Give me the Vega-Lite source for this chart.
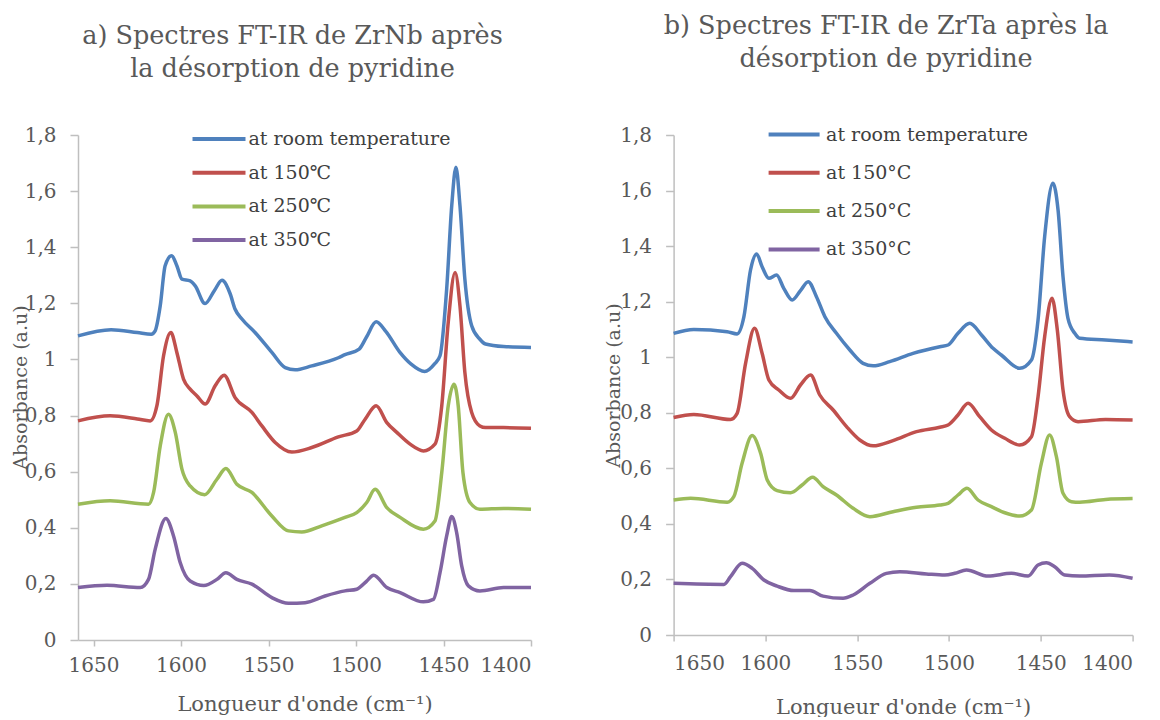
{
  "$schema": "https://vega.github.io/schema/vega-lite/v6.json",
  "background": "white",
  "padding": {"left": 11, "top": 14, "right": 0, "bottom": 0},
  "autosize": {"type": "pad"},
  "spacing": 142.6,
  "bounds": "flush",
  "config": {
    "view": {"stroke": null},
    "font": "DejaVu Serif",
    "axis": {
      "grid": false,
      "domainColor": "#BFBFBF",
      "domainWidth": 1.5,
      "tickColor": "#BFBFBF",
      "tickWidth": 1.5,
      "labelFont": "DejaVu Serif",
      "labelFontSize": 20,
      "labelColor": "#595959",
      "titleFont": "DejaVu Serif",
      "titleFontWeight": "normal",
      "titleColor": "#595959"
    },
    "axisX": {"tickSize": 6, "labelPadding": 9, "titleFontSize": 21},
    "axisY": {"tickSize": 8, "labelPadding": 14, "titleFontSize": 19},
    "title": {
      "font": "DejaVu Serif",
      "fontSize": 25.5,
      "fontWeight": "normal",
      "color": "#595959",
      "lineHeight": 33,
      "anchor": "middle",
      "baseline": "bottom"
    },
    "legend": {
      "labelFont": "DejaVu Serif",
      "labelFontSize": 19,
      "labelColor": "#404040",
      "labelLimit": 0,
      "padding": 0,
      "symbolType": "M-2,0H2",
      "symbolStrokeWidth": 4
    }
  },
  "datasets": {
    "nb": [
      {"w":1658.9,"a":1.084,"s":"at room temperature"},{"w":1640,"a":1.106,"s":"at room temperature"},{"w":1625,"a":1.096,"s":"at room temperature"},{"w":1617,"a":1.090,"s":"at room temperature"},{"w":1614.8,"a":1.102,"s":"at room temperature"},{"w":1611.9,"a":1.191,"s":"at room temperature"},{"w":1609.1,"a":1.334,"s":"at room temperature"},{"w":1605.4,"a":1.370,"s":"at room temperature"},{"w":1602.4,"a":1.334,"s":"at room temperature"},{"w":1599.5,"a":1.286,"s":"at room temperature"},{"w":1594.8,"a":1.280,"s":"at room temperature"},{"w":1591.9,"a":1.262,"s":"at room temperature"},{"w":1586.3,"a":1.199,"s":"at room temperature"},{"w":1581,"a":1.245,"s":"at room temperature"},{"w":1576.6,"a":1.282,"s":"at room temperature"},{"w":1572,"a":1.235,"s":"at room temperature"},{"w":1569.1,"a":1.179,"s":"at room temperature"},{"w":1565.2,"a":1.144,"s":"at room temperature"},{"w":1557.7,"a":1.096,"s":"at room temperature"},{"w":1548.1,"a":1.025,"s":"at room temperature"},{"w":1540.5,"a":0.971,"s":"at room temperature"},{"w":1534.8,"a":0.963,"s":"at room temperature"},{"w":1525.3,"a":0.977,"s":"at room temperature"},{"w":1510.1,"a":1.006,"s":"at room temperature"},{"w":1506.3,"a":1.017,"s":"at room temperature"},{"w":1498.2,"a":1.037,"s":"at room temperature"},{"w":1494,"a":1.080,"s":"at room temperature"},{"w":1488.5,"a":1.134,"s":"at room temperature"},{"w":1483,"a":1.100,"s":"at room temperature"},{"w":1474.9,"a":1.025,"s":"at room temperature"},{"w":1468.5,"a":0.983,"s":"at room temperature"},{"w":1460.8,"a":0.957,"s":"at room temperature"},{"w":1455,"a":0.985,"s":"at room temperature"},{"w":1452,"a":1.013,"s":"at room temperature"},{"w":1448.2,"a":1.251,"s":"at room temperature"},{"w":1445.3,"a":1.548,"s":"at room temperature"},{"w":1442.9,"a":1.685,"s":"at room temperature"},{"w":1440.6,"a":1.548,"s":"at room temperature"},{"w":1437.8,"a":1.286,"s":"at room temperature"},{"w":1433.9,"a":1.120,"s":"at room temperature"},{"w":1429.2,"a":1.072,"s":"at room temperature"},{"w":1426,"a":1.055,"s":"at room temperature"},{"w":1415.7,"a":1.046,"s":"at room temperature"},{"w":1400,"a":1.043,"s":"at room temperature"},
      {"w":1658.9,"a":0.781,"s":"at 150℃"},{"w":1640.5,"a":0.799,"s":"at 150℃"},{"w":1625,"a":0.788,"s":"at 150℃"},{"w":1617.6,"a":0.781,"s":"at 150℃"},{"w":1613.8,"a":0.835,"s":"at 150℃"},{"w":1610,"a":1.013,"s":"at 150℃"},{"w":1605.8,"a":1.096,"s":"at 150℃"},{"w":1602.4,"a":1.025,"s":"at 150℃"},{"w":1598.6,"a":0.930,"s":"at 150℃"},{"w":1594.8,"a":0.894,"s":"at 150℃"},{"w":1590.9,"a":0.870,"s":"at 150℃"},{"w":1586.2,"a":0.841,"s":"at 150℃"},{"w":1580.5,"a":0.906,"s":"at 150℃"},{"w":1575.4,"a":0.944,"s":"at 150℃"},{"w":1569.1,"a":0.864,"s":"at 150℃"},{"w":1559.5,"a":0.811,"s":"at 150℃"},{"w":1553.8,"a":0.763,"s":"at 150℃"},{"w":1546.2,"a":0.704,"s":"at 150℃"},{"w":1536.7,"a":0.670,"s":"at 150℃"},{"w":1525.3,"a":0.686,"s":"at 150℃"},{"w":1510.1,"a":0.724,"s":"at 150℃"},{"w":1499.6,"a":0.745,"s":"at 150℃"},{"w":1494.8,"a":0.787,"s":"at 150℃"},{"w":1488.5,"a":0.835,"s":"at 150℃"},{"w":1482.4,"a":0.775,"s":"at 150℃"},{"w":1476.7,"a":0.740,"s":"at 150℃"},{"w":1469.1,"a":0.698,"s":"at 150℃"},{"w":1461.5,"a":0.674,"s":"at 150℃"},{"w":1454.9,"a":0.698,"s":"at 150℃"},{"w":1451,"a":0.835,"s":"at 150℃"},{"w":1447.3,"a":1.132,"s":"at 150℃"},{"w":1443.4,"a":1.310,"s":"at 150℃"},{"w":1440.6,"a":1.191,"s":"at 150℃"},{"w":1437.8,"a":0.954,"s":"at 150℃"},{"w":1433.9,"a":0.811,"s":"at 150℃"},{"w":1429.2,"a":0.763,"s":"at 150℃"},{"w":1426,"a":0.757,"s":"at 150℃"},{"w":1415.7,"a":0.757,"s":"at 150℃"},{"w":1400,"a":0.755,"s":"at 150℃"},
      {"w":1658.9,"a":0.484,"s":"at 250℃"},{"w":1640.5,"a":0.496,"s":"at 250℃"},{"w":1618.6,"a":0.484,"s":"at 250℃"},{"w":1615.7,"a":0.526,"s":"at 250℃"},{"w":1611.9,"a":0.692,"s":"at 250℃"},{"w":1607.2,"a":0.805,"s":"at 250℃"},{"w":1603.3,"a":0.740,"s":"at 250℃"},{"w":1599.5,"a":0.609,"s":"at 250℃"},{"w":1594.8,"a":0.549,"s":"at 250℃"},{"w":1586.5,"a":0.518,"s":"at 250℃"},{"w":1579.5,"a":0.573,"s":"at 250℃"},{"w":1574.4,"a":0.611,"s":"at 250℃"},{"w":1568.1,"a":0.555,"s":"at 250℃"},{"w":1559.5,"a":0.526,"s":"at 250℃"},{"w":1548.1,"a":0.442,"s":"at 250℃"},{"w":1538.6,"a":0.389,"s":"at 250℃"},{"w":1531,"a":0.385,"s":"at 250℃"},{"w":1519.6,"a":0.407,"s":"at 250℃"},{"w":1506.3,"a":0.437,"s":"at 250℃"},{"w":1499.6,"a":0.454,"s":"at 250℃"},{"w":1493.9,"a":0.490,"s":"at 250℃"},{"w":1489.1,"a":0.537,"s":"at 250℃"},{"w":1482.4,"a":0.472,"s":"at 250℃"},{"w":1474.8,"a":0.437,"s":"at 250℃"},{"w":1461.5,"a":0.395,"s":"at 250℃"},{"w":1454.9,"a":0.424,"s":"at 250℃"},{"w":1451,"a":0.597,"s":"at 250℃"},{"w":1447.3,"a":0.835,"s":"at 250℃"},{"w":1444,"a":0.912,"s":"at 250℃"},{"w":1441.6,"a":0.835,"s":"at 250℃"},{"w":1438.9,"a":0.597,"s":"at 250℃"},{"w":1434.9,"a":0.490,"s":"at 250℃"},{"w":1429.2,"a":0.466,"s":"at 250℃"},{"w":1415.7,"a":0.469,"s":"at 250℃"},{"w":1400,"a":0.466,"s":"at 250℃"},
      {"w":1658.9,"a":0.187,"s":"at 350℃"},{"w":1642.3,"a":0.195,"s":"at 350℃"},{"w":1623.3,"a":0.187,"s":"at 350℃"},{"w":1618.6,"a":0.216,"s":"at 350℃"},{"w":1614.8,"a":0.323,"s":"at 350℃"},{"w":1608.7,"a":0.433,"s":"at 350℃"},{"w":1604.3,"a":0.371,"s":"at 350℃"},{"w":1600.5,"a":0.276,"s":"at 350℃"},{"w":1594.8,"a":0.210,"s":"at 350℃"},{"w":1587,"a":0.194,"s":"at 350℃"},{"w":1579.5,"a":0.216,"s":"at 350℃"},{"w":1574.4,"a":0.240,"s":"at 350℃"},{"w":1568.1,"a":0.216,"s":"at 350℃"},{"w":1559.5,"a":0.199,"s":"at 350℃"},{"w":1548.1,"a":0.151,"s":"at 350℃"},{"w":1538.6,"a":0.131,"s":"at 350℃"},{"w":1529.1,"a":0.133,"s":"at 350℃"},{"w":1517.7,"a":0.157,"s":"at 350℃"},{"w":1506.3,"a":0.175,"s":"at 350℃"},{"w":1499.6,"a":0.181,"s":"at 350℃"},{"w":1493.9,"a":0.210,"s":"at 350℃"},{"w":1490,"a":0.231,"s":"at 350℃"},{"w":1482.4,"a":0.187,"s":"at 350℃"},{"w":1474.8,"a":0.169,"s":"at 350℃"},{"w":1461.5,"a":0.136,"s":"at 350℃"},{"w":1455.8,"a":0.145,"s":"at 350℃"},{"w":1452,"a":0.240,"s":"at 350℃"},{"w":1448.2,"a":0.371,"s":"at 350℃"},{"w":1445.3,"a":0.440,"s":"at 350℃"},{"w":1442.5,"a":0.383,"s":"at 350℃"},{"w":1439.6,"a":0.264,"s":"at 350℃"},{"w":1435.8,"a":0.193,"s":"at 350℃"},{"w":1429.2,"a":0.175,"s":"at 350℃"},{"w":1415.7,"a":0.187,"s":"at 350℃"},{"w":1400,"a":0.187,"s":"at 350℃"}
    ],
    "ta": [
      {"w":1650,"a":1.086,"s":"at room temperature"},{"w":1639,"a":1.100,"s":"at room temperature"},{"w":1620.8,"a":1.092,"s":"at room temperature"},{"w":1615.4,"a":1.084,"s":"at room temperature"},{"w":1611.7,"a":1.146,"s":"at room temperature"},{"w":1608.1,"a":1.314,"s":"at room temperature"},{"w":1604.8,"a":1.372,"s":"at room temperature"},{"w":1601.8,"a":1.326,"s":"at room temperature"},{"w":1598.1,"a":1.284,"s":"at room temperature"},{"w":1593.9,"a":1.296,"s":"at room temperature"},{"w":1590,"a":1.248,"s":"at room temperature"},{"w":1585.4,"a":1.206,"s":"at room temperature"},{"w":1580.9,"a":1.240,"s":"at room temperature"},{"w":1576.7,"a":1.272,"s":"at room temperature"},{"w":1572.2,"a":1.218,"s":"at room temperature"},{"w":1567.6,"a":1.146,"s":"at room temperature"},{"w":1561.3,"a":1.086,"s":"at room temperature"},{"w":1554,"a":1.026,"s":"at room temperature"},{"w":1546.8,"a":0.978,"s":"at room temperature"},{"w":1541.3,"a":0.969,"s":"at room temperature"},{"w":1532.3,"a":0.984,"s":"at room temperature"},{"w":1519.6,"a":1.014,"s":"at room temperature"},{"w":1505,"a":1.038,"s":"at room temperature"},{"w":1500.5,"a":1.044,"s":"at room temperature"},{"w":1495.1,"a":1.086,"s":"at room temperature"},{"w":1488.7,"a":1.122,"s":"at room temperature"},{"w":1482.3,"a":1.080,"s":"at room temperature"},{"w":1476,"a":1.032,"s":"at room temperature"},{"w":1471.5,"a":1.008,"s":"at room temperature"},{"w":1461.5,"a":0.960,"s":"at room temperature"},{"w":1455.1,"a":0.990,"s":"at room temperature"},{"w":1451.5,"a":1.134,"s":"at room temperature"},{"w":1447.9,"a":1.434,"s":"at room temperature"},{"w":1443.4,"a":1.626,"s":"at room temperature"},{"w":1440.6,"a":1.530,"s":"at room temperature"},{"w":1437.9,"a":1.290,"s":"at room temperature"},{"w":1435.2,"a":1.140,"s":"at room temperature"},{"w":1431.5,"a":1.086,"s":"at room temperature"},{"w":1428.8,"a":1.068,"s":"at room temperature"},{"w":1414.7,"a":1.062,"s":"at room temperature"},{"w":1400,"a":1.055,"s":"at room temperature"},
      {"w":1650,"a":0.783,"s":"at 150°C"},{"w":1639,"a":0.794,"s":"at 150°C"},{"w":1619,"a":0.776,"s":"at 150°C"},{"w":1615.4,"a":0.798,"s":"at 150°C"},{"w":1610.8,"a":0.978,"s":"at 150°C"},{"w":1605.9,"a":1.104,"s":"at 150°C"},{"w":1601.8,"a":1.014,"s":"at 150°C"},{"w":1598.1,"a":0.918,"s":"at 150°C"},{"w":1592.7,"a":0.882,"s":"at 150°C"},{"w":1586.3,"a":0.852,"s":"at 150°C"},{"w":1580.9,"a":0.900,"s":"at 150°C"},{"w":1575.4,"a":0.936,"s":"at 150°C"},{"w":1570.4,"a":0.864,"s":"at 150°C"},{"w":1563.1,"a":0.810,"s":"at 150°C"},{"w":1555.8,"a":0.750,"s":"at 150°C"},{"w":1548.6,"a":0.702,"s":"at 150°C"},{"w":1541.3,"a":0.681,"s":"at 150°C"},{"w":1530.5,"a":0.700,"s":"at 150°C"},{"w":1517.7,"a":0.732,"s":"at 150°C"},{"w":1505,"a":0.748,"s":"at 150°C"},{"w":1500.5,"a":0.756,"s":"at 150°C"},{"w":1495.1,"a":0.792,"s":"at 150°C"},{"w":1489.6,"a":0.834,"s":"at 150°C"},{"w":1483.3,"a":0.786,"s":"at 150°C"},{"w":1476.9,"a":0.738,"s":"at 150°C"},{"w":1469.6,"a":0.708,"s":"at 150°C"},{"w":1461.5,"a":0.684,"s":"at 150°C"},{"w":1455.1,"a":0.714,"s":"at 150°C"},{"w":1451.5,"a":0.858,"s":"at 150°C"},{"w":1447.9,"a":1.074,"s":"at 150°C"},{"w":1443.9,"a":1.212,"s":"at 150°C"},{"w":1441,"a":1.098,"s":"at 150°C"},{"w":1437.9,"a":0.882,"s":"at 150°C"},{"w":1434.3,"a":0.786,"s":"at 150°C"},{"w":1429.7,"a":0.768,"s":"at 150°C"},{"w":1414.7,"a":0.776,"s":"at 150°C"},{"w":1400,"a":0.774,"s":"at 150°C"},
      {"w":1650,"a":0.486,"s":"at 250°C"},{"w":1640.7,"a":0.492,"s":"at 250°C"},{"w":1620.8,"a":0.478,"s":"at 250°C"},{"w":1617.2,"a":0.498,"s":"at 250°C"},{"w":1612.7,"a":0.618,"s":"at 250°C"},{"w":1607.2,"a":0.718,"s":"at 250°C"},{"w":1602.6,"a":0.654,"s":"at 250°C"},{"w":1599,"a":0.558,"s":"at 250°C"},{"w":1593.6,"a":0.520,"s":"at 250°C"},{"w":1586.3,"a":0.512,"s":"at 250°C"},{"w":1580,"a":0.540,"s":"at 250°C"},{"w":1574.3,"a":0.568,"s":"at 250°C"},{"w":1568.6,"a":0.534,"s":"at 250°C"},{"w":1561.3,"a":0.504,"s":"at 250°C"},{"w":1552.2,"a":0.456,"s":"at 250°C"},{"w":1543.1,"a":0.426,"s":"at 250°C"},{"w":1530.5,"a":0.444,"s":"at 250°C"},{"w":1517.7,"a":0.460,"s":"at 250°C"},{"w":1505,"a":0.468,"s":"at 250°C"},{"w":1500.5,"a":0.474,"s":"at 250°C"},{"w":1495.1,"a":0.504,"s":"at 250°C"},{"w":1490.2,"a":0.528,"s":"at 250°C"},{"w":1484.2,"a":0.486,"s":"at 250°C"},{"w":1476.9,"a":0.462,"s":"at 250°C"},{"w":1469.6,"a":0.440,"s":"at 250°C"},{"w":1461.5,"a":0.428,"s":"at 250°C"},{"w":1455.1,"a":0.450,"s":"at 250°C"},{"w":1449.7,"a":0.618,"s":"at 250°C"},{"w":1445.2,"a":0.720,"s":"at 250°C"},{"w":1441.5,"a":0.642,"s":"at 250°C"},{"w":1437.9,"a":0.510,"s":"at 250°C"},{"w":1433.3,"a":0.480,"s":"at 250°C"},{"w":1428.8,"a":0.478,"s":"at 250°C"},{"w":1414.7,"a":0.488,"s":"at 250°C"},{"w":1400,"a":0.491,"s":"at 250°C"},
      {"w":1650,"a":0.186,"s":"at 350°C"},{"w":1622.6,"a":0.182,"s":"at 350°C"},{"w":1619,"a":0.210,"s":"at 350°C"},{"w":1612.7,"a":0.258,"s":"at 350°C"},{"w":1607.2,"a":0.240,"s":"at 350°C"},{"w":1600.8,"a":0.198,"s":"at 350°C"},{"w":1593.6,"a":0.176,"s":"at 350°C"},{"w":1584.5,"a":0.160,"s":"at 350°C"},{"w":1575.8,"a":0.160,"s":"at 350°C"},{"w":1568.6,"a":0.140,"s":"at 350°C"},{"w":1557.7,"a":0.132,"s":"at 350°C"},{"w":1552.2,"a":0.144,"s":"at 350°C"},{"w":1543.1,"a":0.186,"s":"at 350°C"},{"w":1534.1,"a":0.222,"s":"at 350°C"},{"w":1526.8,"a":0.228,"s":"at 350°C"},{"w":1512.3,"a":0.220,"s":"at 350°C"},{"w":1502.3,"a":0.216,"s":"at 350°C"},{"w":1496.9,"a":0.222,"s":"at 350°C"},{"w":1490.5,"a":0.234,"s":"at 350°C"},{"w":1478.7,"a":0.212,"s":"at 350°C"},{"w":1466,"a":0.222,"s":"at 350°C"},{"w":1456.9,"a":0.212,"s":"at 350°C"},{"w":1451.5,"a":0.252,"s":"at 350°C"},{"w":1447,"a":0.260,"s":"at 350°C"},{"w":1442.4,"a":0.246,"s":"at 350°C"},{"w":1437,"a":0.216,"s":"at 350°C"},{"w":1428.8,"a":0.212,"s":"at 350°C"},{"w":1412.7,"a":0.216,"s":"at 350°C"},{"w":1400,"a":0.204,"s":"at 350°C"}
    ]
  },
  "hconcat": [
    {
      "width": 453,
      "height": 505,
      "title": {"text": ["a) Spectres FT-IR de ZrNb après", "la désorption de pyridine"], "dx": -12, "offset": 41},
      "data": {"name": "nb"},
      "mark": {"type": "line", "strokeWidth": 3.5, "interpolate": "monotone"},
      "encoding": {
        "x": {"field": "w", "type": "quantitative",
              "scale": {"domain": [1400, 1658.9], "reverse": true, "nice": false, "zero": false},
              "axis": {"values": [1650, 1600, 1550, 1500, 1450, 1400], "format": "d", "title": "Longueur d'onde (cm⁻¹)", "titleY": 70, "titleBaseline": "alphabetic"}},
        "y": {"field": "a", "type": "quantitative",
              "scale": {"domain": [0, 1.8], "nice": false},
              "axis": {"values": [0, 0.2, 0.4, 0.6, 0.8, 1, 1.2, 1.4, 1.6, 1.8], "labelExpr": "replace(format(datum.value, '.1~f'), '.', ',')", "title": "Absorbance (a.u)", "titleX": -57.4, "titleY": 252, "titleBaseline": "middle", "titleAngle": -90}},
        "order": {"field": "w", "sort": "descending"},
        "color": {"field": "s", "type": "nominal",
                  "scale": {"domain": ["at room temperature", "at 150℃", "at 250℃", "at 350℃"], "range": ["#4F81BD", "#C0504D", "#9BBB59", "#8064A2"]},
                  "legend": {"title": null, "orient": "none", "legendX": 125.5, "legendY": -11.5, "symbolSize": 702, "labelOffset": 14, "rowPadding": 7.7}}
      }
    },
    {
      "width": 459,
      "height": 500,
      "title": {"text": ["b) Spectres FT-IR de ZrTa après la", "désorption de pyridine"], "dx": -17, "offset": 47},
      "data": {"name": "ta"},
      "mark": {"type": "line", "strokeWidth": 3.5, "interpolate": "monotone"},
      "encoding": {
        "x": {"field": "w", "type": "quantitative",
              "scale": {"domain": [1400, 1650], "reverse": true, "nice": false, "zero": false},
              "axis": {"values": [1650, 1600, 1550, 1500, 1450, 1400], "format": "d", "labelPadding": 12, "title": "Longueur d'onde (cm⁻¹)", "titleY": 78, "titleBaseline": "alphabetic"}},
        "y": {"field": "a", "type": "quantitative",
              "scale": {"domain": [0, 1.8], "nice": false},
              "axis": {"values": [0, 0.2, 0.4, 0.6, 0.8, 1, 1.2, 1.4, 1.6, 1.8], "labelExpr": "replace(format(datum.value, '.1~f'), '.', ',')", "title": "Absorbance (a.u)", "titleX": -60.4, "titleY": 250, "titleBaseline": "middle", "titleAngle": -90}},
        "order": {"field": "w", "sort": "descending"},
        "color": {"field": "s", "type": "nominal",
                  "scale": {"domain": ["at room temperature", "at 150°C", "at 250°C", "at 350°C"], "range": ["#4F81BD", "#C0504D", "#9BBB59", "#8064A2"]},
                  "legend": {"title": null, "orient": "none", "legendX": 105.5, "legendY": -15.5, "symbolSize": 650, "labelOffset": 17, "rowPadding": 13.3}}
      }
    }
  ],
  "resolve": {"scale": {"color": "independent", "x": "independent", "y": "independent"}, "legend": {"color": "independent"}}
}
